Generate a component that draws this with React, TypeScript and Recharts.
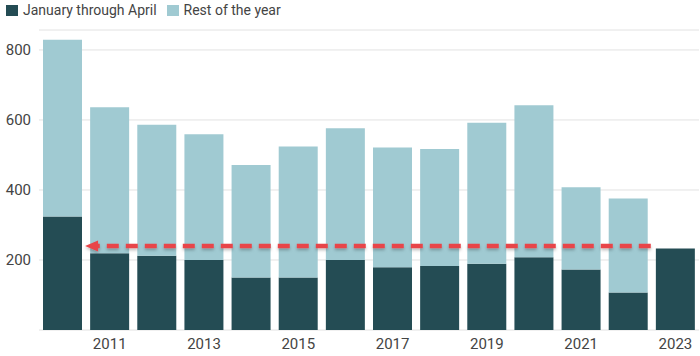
import { BarChart, Bar, XAxis, YAxis, CartesianGrid, ReferenceLine } from 'recharts';

const years = ['2010', '2011', '2012', '2013', '2014', '2015', '2016', '2017', '2018', '2019', '2020', '2021', '2022', '2023'];
const janApr = [324, 219, 212, 200, 150, 150, 200, 179, 183, 189, 208, 173, 107, 233];
const totals = [829, 636, 586, 559, 471, 524, 576, 521, 517, 592, 642, 408, 376, null];
const yTicks = [200, 400, 600, 800];
const arrowLevel = 240;
const arrowFrom = '2022';
const arrowTo = '2010';

const DARK = '#244c54';
const LIGHT = '#a0cad2';
const RED = '#e8454a';
const BAR_SIZE = 39;

const data = years.map((year, i) => ({
  year,
  janApr: janApr[i],
  rest: totals[i] == null ? null : (totals[i] as number) - janApr[i],
}));

const ArrowShape = (props: any) => {
  const { x1, x2, y1 } = props;
  const shift = BAR_SIZE / 2 + 3;
  const left = Math.min(x1, x2) + shift;
  const right = Math.max(x1, x2) + shift;
  const y = y1;
  return (
    <g filter="url(#arrowShadow)">
      <line x1={right} y1={y} x2={left + 10} y2={y} stroke={RED} strokeWidth={4.5} strokeDasharray="12 7" />
      <polygon points={`${left},${y} ${left + 13},${y - 5.5} ${left + 13},${y + 5.5}`} fill={RED} />
    </g>
  );
};

const LegendItem = ({ color, label }: { color: string; label: string }) => (
  <span style={{ display: 'inline-flex', alignItems: 'center', marginRight: 10 }}>
    <span style={{ width: 12, height: 11, background: color, display: 'inline-block', marginRight: 5 }} />
    <span>{label}</span>
  </span>
);

export default function App() {
  return (
    <div style={{ position: 'relative', width: 700, height: 356, fontFamily: 'Roboto, sans-serif' }}>
      <style>{'body{margin:0}'}</style>
      <div style={{ position: 'absolute', left: 6, top: 2, fontSize: 14, color: '#444', display: 'flex' }}>
        <LegendItem color={DARK} label="January through April" />
        <LegendItem color={LIGHT} label="Rest of the year" />
      </div>
      <BarChart width={700} height={356} data={data} margin={{ top: 30, right: 1, bottom: 0, left: 0 }}>
        <defs>
          <filter id="arrowShadow" x="-5%" y="-100%" width="110%" height="300%">
            <feDropShadow dx="0" dy="2" stdDeviation="1.5" floodColor="#000" floodOpacity="0.25" />
          </filter>
        </defs>
        <CartesianGrid vertical={false} stroke="#e2e2e2" />
        <XAxis
          dataKey="year"
          height={26}
          axisLine={false}
          tickLine={false}
          interval={0}
          tickFormatter={(v: string) => (Number(v) % 2 === 1 ? v : '')}
          tick={{ fill: '#444', fontSize: 15 }}
        />
        <YAxis
          width={39}
          domain={[0, 857]}
          ticks={yTicks}
          axisLine={false}
          tickLine={false}
          tick={{ fill: '#444', fontSize: 15 }}
        />
        <Bar dataKey="janApr" stackId="a" fill={DARK} barSize={BAR_SIZE} isAnimationActive={false} />
        <Bar dataKey="rest" stackId="a" fill={LIGHT} barSize={BAR_SIZE} isAnimationActive={false} />
        <ReferenceLine
          segment={[{ x: arrowFrom, y: arrowLevel }, { x: arrowTo, y: arrowLevel }]}
          shape={ArrowShape}
          ifOverflow="visible"
        />
      </BarChart>
    </div>
  );
}
